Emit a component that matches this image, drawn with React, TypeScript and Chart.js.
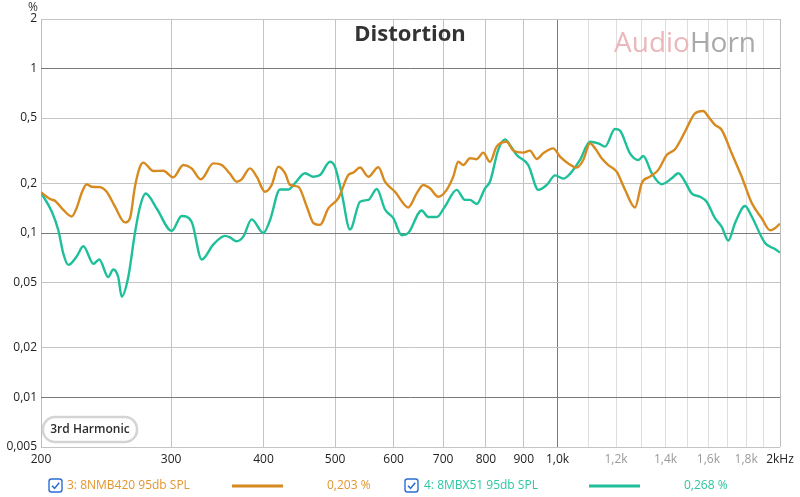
import React, { useEffect, useRef } from "react";
import { Chart, registerables } from "chart.js";

Chart.register(...registerables);

const FONT = "'Open Sans', 'Noto Sans', sans-serif";

const xTicks = [200, 300, 400, 500, 600, 700, 800, 900, 1000, 1100, 1200, 1300, 1400, 1500, 1600, 1700, 1800, 1900, 2000];
const xTickLabels = ["200", "300", "400", "500", "600", "700", "800", "900", "1,0k", "", "1,2k", "", "1,4k", "", "1,6k", "", "1,8k", "", "2kHz"];
const yTicks = [0.005, 0.01, 0.02, 0.05, 0.1, 0.2, 0.5, 1, 2];
const yTickLabels = ["0,005", "0,01", "0,02", "0,05", "0,1", "0,2", "0,5", "1", "2"];

const seriesNames = ["3: 8NMB420 95db SPL", "4: 8MBX51 95db SPL"];
const seriesReadouts = ["0,203 %", "0,268 %"];

const orangeFreq = [200, 205.7, 208.9, 214.4, 220.1, 223.5, 227, 230.6, 234.2, 240.3, 245.4, 251.8, 259.8, 263.9, 268, 272.3, 275.1, 283.8, 292.8, 302, 311.6, 319.8, 329.2, 342.1, 351.2, 360.4, 368, 373.8, 383.5, 391.7, 401.9, 410.4, 418.9, 427.8, 434.5, 445.9, 457.7, 467.3, 477.1, 489.6, 505.1, 521.1, 529.3, 540.5, 554.6, 572.2, 584.2, 602.6, 628.1, 644.7, 658.1, 672, 689.6, 707.9, 722.6, 733.9, 745.5, 761.2, 777.3, 793.4, 810.1, 827.1, 853.4, 871.1, 898.6, 917.6, 937.1, 956.5, 986.8, 1007.7, 1034, 1061.4, 1083.4, 1106.4, 1123.9, 1147.4, 1171.4, 1202.3, 1234.1, 1273, 1300, 1334.1, 1369, 1405.3, 1442.1, 1487.7, 1534.7, 1574.8, 1599.6, 1633.2, 1667.9, 1720.5, 1775.1, 1831.4, 1889.2, 1938.8, 1968.9, 2000];
const orangeVal = [0.177, 0.161, 0.157, 0.138, 0.126, 0.142, 0.175, 0.198, 0.191, 0.19, 0.178, 0.145, 0.116, 0.123, 0.191, 0.253, 0.268, 0.238, 0.239, 0.218, 0.259, 0.247, 0.212, 0.265, 0.259, 0.229, 0.205, 0.212, 0.247, 0.22, 0.178, 0.196, 0.253, 0.231, 0.196, 0.191, 0.145, 0.115, 0.112, 0.141, 0.163, 0.225, 0.233, 0.25, 0.22, 0.251, 0.205, 0.178, 0.143, 0.174, 0.196, 0.187, 0.166, 0.183, 0.22, 0.271, 0.259, 0.285, 0.281, 0.308, 0.271, 0.335, 0.359, 0.317, 0.308, 0.317, 0.282, 0.305, 0.327, 0.291, 0.265, 0.25, 0.278, 0.351, 0.327, 0.285, 0.259, 0.236, 0.183, 0.143, 0.201, 0.22, 0.242, 0.298, 0.323, 0.413, 0.534, 0.552, 0.51, 0.454, 0.423, 0.305, 0.22, 0.152, 0.123, 0.104, 0.107, 0.114];

const tealFreq = [200, 206.8, 211.1, 214.4, 217.8, 223.5, 228.2, 235.5, 239.8, 246.6, 250.5, 254.4, 257.2, 262.5, 268, 272.3, 277.1, 286.8, 300.5, 310, 319.8, 330, 342.1, 354.8, 360.4, 368, 375.6, 385.6, 399.8, 408.3, 421.1, 432.2, 441.3, 455.3, 467.3, 477.1, 492.1, 499.8, 510.5, 523.8, 540.5, 554.6, 569.4, 584.2, 599.5, 615.4, 628.1, 654.9, 668.5, 686.3, 704.1, 730.3, 749.4, 761.2, 777.3, 797.7, 810.1, 831.3, 848.9, 862.2, 880.5, 912.9, 941.9, 967, 992.3, 1018.3, 1039.6, 1072.5, 1106.4, 1135.3, 1159.3, 1195.9, 1214.8, 1253.2, 1286.3, 1306.3, 1341.2, 1383.6, 1427.5, 1457.1, 1487.7, 1518.7, 1558.9, 1591.5, 1633.2, 1667.9, 1702.3, 1738.7, 1793.6, 1831.4, 1908.7, 1968.9, 2000];
const tealVal = [0.176, 0.135, 0.104, 0.075, 0.064, 0.072, 0.083, 0.065, 0.069, 0.054, 0.06, 0.054, 0.041, 0.054, 0.1, 0.145, 0.174, 0.141, 0.103, 0.127, 0.117, 0.069, 0.085, 0.096, 0.094, 0.089, 0.095, 0.121, 0.1, 0.12, 0.184, 0.184, 0.201, 0.231, 0.22, 0.225, 0.271, 0.253, 0.174, 0.105, 0.155, 0.159, 0.185, 0.139, 0.123, 0.097, 0.1, 0.137, 0.125, 0.125, 0.145, 0.183, 0.159, 0.159, 0.15, 0.187, 0.205, 0.32, 0.371, 0.343, 0.298, 0.259, 0.183, 0.196, 0.224, 0.214, 0.229, 0.278, 0.359, 0.351, 0.335, 0.429, 0.419, 0.305, 0.278, 0.294, 0.231, 0.198, 0.215, 0.231, 0.205, 0.174, 0.166, 0.155, 0.123, 0.109, 0.09, 0.115, 0.146, 0.126, 0.087, 0.08, 0.076];

const ORANGE = "#d68a1f";
const TEAL = "#1fbf9a";
const ORANGE_TEXT = "#e29530";
const TEAL_TEXT = "#2cc6a2";

function roundRect(ctx: CanvasRenderingContext2D, x: number, y: number, w: number, h: number, r: number) {
  ctx.beginPath();
  ctx.moveTo(x + r, y);
  ctx.lineTo(x + w - r, y);
  ctx.arcTo(x + w, y, x + w, y + r, r);
  ctx.lineTo(x + w, y + h - r);
  ctx.arcTo(x + w, y + h, x + w - r, y + h, r);
  ctx.lineTo(x + r, y + h);
  ctx.arcTo(x, y + h, x, y + h - r, r);
  ctx.lineTo(x, y + r);
  ctx.arcTo(x, y, x + r, y, r);
  ctx.closePath();
}

function drawCheckbox(ctx: CanvasRenderingContext2D, x: number, y: number) {
  ctx.save();
  roundRect(ctx, x, y, 13, 13, 2.5);
  ctx.fillStyle = "#ffffff";
  ctx.fill();
  ctx.strokeStyle = "#2b6fd3";
  ctx.lineWidth = 1.4;
  ctx.stroke();
  ctx.beginPath();
  ctx.moveTo(x + 3, y + 6.8);
  ctx.lineTo(x + 5.6, y + 9.4);
  ctx.lineTo(x + 10.2, y + 3.8);
  ctx.lineWidth = 1.6;
  ctx.stroke();
  ctx.restore();
}

const decorPlugin = {
  id: "decor",
  beforeDraw(chart: any) {
    const ctx = chart.ctx as CanvasRenderingContext2D;
    ctx.save();
    ctx.fillStyle = "#ffffff";
    ctx.fillRect(0, 0, chart.width, chart.height);
    ctx.restore();
  },
  beforeDatasetsDraw(chart: any) {
    const ctx = chart.ctx as CanvasRenderingContext2D;
    const area = chart.chartArea;
    ctx.save();
    // watermark
    ctx.font = `28px ${FONT}`;
    ctx.textBaseline = "alphabetic";
    ctx.textAlign = "left";
    const wx = area.right - 166;
    ctx.fillStyle = "#ebb7ba";
    ctx.fillText("Audio", wx, 52);
    const aw = ctx.measureText("Audio").width;
    ctx.fillStyle = "#a9a9a9";
    ctx.fillText("Horn", wx + aw, 52);
    ctx.restore();
  },
  afterDatasetsDraw(chart: any) {
    const ctx = chart.ctx as CanvasRenderingContext2D;
    const area = chart.chartArea;
    ctx.save();
    // title
    ctx.font = `bold 22px ${FONT}`;
    ctx.fillStyle = "#333333";
    ctx.textAlign = "center";
    ctx.textBaseline = "middle";
    ctx.fillText("Distortion", 410, 35);

    // % unit
    ctx.font = `12px ${FONT}`;
    ctx.fillStyle = "#333333";
    ctx.textAlign = "center";
    ctx.fillText("%", 33, 8);

    // 3rd Harmonic box
    roundRect(ctx, area.left + 2, area.bottom - 30, 94, 25, 12);
    ctx.fillStyle = "#ffffff";
    ctx.fill();
    ctx.strokeStyle = "#d4d4d4";
    ctx.lineWidth = 2.5;
    ctx.stroke();
    ctx.font = `600 12px ${FONT}`;
    ctx.fillStyle = "#2e2e2e";
    ctx.textAlign = "center";
    ctx.textBaseline = "middle";
    ctx.fillText("3rd Harmonic", area.left + 49, area.bottom - 17);

    // legend row
    const ly = 486;
    ctx.font = `12px ${FONT}`;
    ctx.textBaseline = "middle";
    ctx.textAlign = "left";
    const entries = [
      { cb: 49, tx: 67, l0: 232, l1: 283, vx: 327, color: ORANGE, tcolor: ORANGE_TEXT },
      { cb: 405, tx: 424, l0: 589, l1: 640, vx: 684, color: TEAL, tcolor: TEAL_TEXT },
    ];
    entries.forEach((e, i) => {
      drawCheckbox(ctx, e.cb, ly - 7);
      ctx.fillStyle = e.tcolor;
      ctx.fillText(seriesNames[i], e.tx, ly);
      ctx.strokeStyle = e.color;
      ctx.lineWidth = 3;
      ctx.beginPath();
      ctx.moveTo(e.l0, ly);
      ctx.lineTo(e.l1, ly);
      ctx.stroke();
      ctx.fillStyle = e.tcolor;
      ctx.fillText(seriesReadouts[i], e.vx, ly);
    });
    ctx.restore();
  },
};

function xGridColor(v: number) {
  if (v === 1000) return "#7a7a7a";
  if (v === 200 || v === 2000) return "#bdbdbd";
  if (v > 1000) return "#dedede";
  return "#c4c4c4";
}

function yGridColor(v: number) {
  if (v === 1 || v === 0.1 || v === 0.01) return "#7a7a7a";
  return "#c4c4c4";
}

export default function App() {
  const canvasRef = useRef<HTMLCanvasElement | null>(null);

  useEffect(() => {
    document.body.style.margin = "0";
    const canvas = canvasRef.current;
    if (!canvas) return;
    const chart = new Chart(canvas, {
      type: "line",
      data: {
        datasets: [
          {
            label: seriesNames[0],
            data: orangeFreq.map((f, i) => ({ x: f, y: orangeVal[i] })),
            borderColor: ORANGE,
            borderWidth: 2.4,
            pointRadius: 0,
            fill: false,
            cubicInterpolationMode: "monotone",
          },
          {
            label: seriesNames[1],
            data: tealFreq.map((f, i) => ({ x: f, y: tealVal[i] })),
            borderColor: TEAL,
            borderWidth: 2.4,
            pointRadius: 0,
            fill: false,
            cubicInterpolationMode: "monotone",
          },
        ],
      },
      options: {
        animation: false,
        responsive: false,
        maintainAspectRatio: false,
        layout: { padding: { top: 19, right: 20, left: 0, bottom: 0 } },
        plugins: {
          legend: { display: false },
          tooltip: { enabled: false },
          title: { display: false },
        },
        scales: {
          x: {
            type: "logarithmic",
            min: 200,
            max: 2000,
            afterBuildTicks: (s: any) => {
              s.ticks = xTicks.map((v) => ({ value: v }));
            },
            afterFit: (s: any) => {
              s.height = 50;
            },
            ticks: {
              autoSkip: false,
              maxRotation: 0,
              padding: 5,
              font: { family: FONT, size: 12 },
              color: (c: any) => {
                const v = xTicks[c.index];
                return v > 1000 && v < 2000 ? "#9a9a9a" : "#222222";
              },
              callback: (_v: any, i: number) => xTickLabels[i],
            },
            grid: {
              drawTicks: false,
              lineWidth: 1,
              color: (c: any) => xGridColor(c.tick ? c.tick.value : 0),
            },
            border: { display: false },
          },
          y: {
            type: "logarithmic",
            min: 0.005,
            max: 2,
            afterBuildTicks: (s: any) => {
              s.ticks = yTicks.map((v) => ({ value: v }));
            },
            afterFit: (s: any) => {
              s.width = 41;
            },
            ticks: {
              autoSkip: false,
              padding: 4,
              font: { family: FONT, size: 12 },
              color: "#222222",
              callback: (_v: any, i: number) => yTickLabels[i],
            },
            grid: {
              drawTicks: false,
              lineWidth: 1,
              color: (c: any) => yGridColor(c.tick ? c.tick.value : 0),
            },
            border: { display: false },
          },
        },
      },
      plugins: [decorPlugin],
    } as any);
    return () => {
      chart.destroy();
    };
  }, []);

  return (
    <div style={{ width: 800, height: 497 }}>
      <canvas ref={canvasRef} width={800} height={497} style={{ display: "block" }} />
    </div>
  );
}
